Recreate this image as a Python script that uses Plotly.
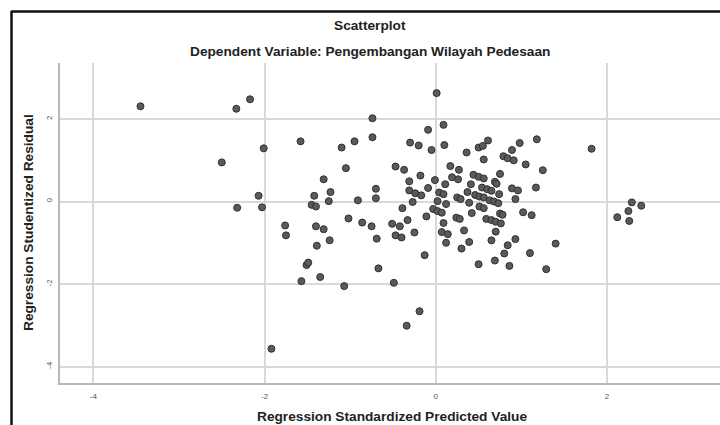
import plotly.graph_objects as go

predicted = [
    -3.45, -2.33, -2.17, -2.50, -2.01, -2.07, -2.32, -2.03, -1.92, -1.76,
    -1.75, -1.58, -1.10, -0.95, -0.74, -0.74, -1.05, -1.31, -1.23, -1.42,
    -1.25, -1.45, -1.40, -1.40, -1.31, -1.24, -1.39, -1.02, -1.51, -1.49,
    -1.57, -1.35, -1.07, -0.91, -0.70, -0.70, -0.86, -0.75, -0.69, -0.67,
    -0.49, -0.47, -0.37, -0.31, -0.18, -0.31, -0.24, -0.17, -0.09, -0.01,
    -0.39, -0.27, -0.51, -0.42, -0.33, -0.47, -0.40, -0.25, -0.11, -0.13,
    -0.19, -0.34, -0.30, -0.20, -0.09, -0.05, 0.01, 0.09, 0.10, 0.36,
    0.50, 0.55, 0.61, 0.56, 0.98, 1.18, 0.89, 0.79, 0.84, 0.91,
    1.05, 1.25, 1.82, 0.17, 0.27, 0.19, 0.26, 0.11, 0.44, 0.50,
    0.56, 0.75, 0.69, 0.71, 0.41, 0.54, 0.60, 0.65, 0.37, 0.89,
    0.96, 1.17, 0.74, 0.04, 0.09, 0.25, 0.29, 0.46, 0.51, 0.56,
    0.93, 0.02, 0.12, 0.39, 0.51, 0.56, 0.63, 0.68, 0.73, -0.03,
    0.02, 0.07, 0.42, 0.24, 0.28, 0.09, 0.59, 0.65, 0.70, 0.76,
    0.75, 0.78, 1.02, 1.12, 0.07, 0.14, 0.12, 0.33, 0.39, 0.30,
    0.70, 0.65, 0.93, 0.84, 0.80, 1.10, 1.40, 0.50, 0.69, 0.86,
    1.29, 2.29, 2.40, 2.25, 2.12, 2.26,
]
residual = [
    2.31, 2.25, 2.48, 0.95, 1.29, 0.14, -0.15, -0.14, -3.57, -0.58,
    -0.82, 1.46, 1.31, 1.46, 2.02, 1.56, 0.81, 0.54, 0.23, 0.14,
    0.01, -0.08, -0.12, -0.60, -0.67, -0.94, -1.07, -0.41, -1.54, -1.48,
    -1.93, -1.83, -2.05, 0.03, 0.31, 0.08, -0.51, -0.60, -0.90, -1.62,
    -1.97, 0.85, 0.77, 0.49, 0.63, 0.27, 0.20, 0.15, 0.33, 0.52,
    -0.16, -0.01, -0.54, -0.60, -0.45, -0.82, -0.87, -0.75, -0.36, -1.30,
    -2.66, -3.01, 1.43, 1.36, 1.74, 1.25, 2.63, 1.86, 1.37, 1.19,
    1.31, 1.35, 1.48, 1.02, 1.42, 1.51, 1.25, 1.10, 1.05, 1.00,
    0.90, 0.76, 1.28, 0.86, 0.77, 0.59, 0.54, 0.42, 0.65, 0.60,
    0.56, 0.67, 0.48, 0.43, 0.42, 0.34, 0.30, 0.26, 0.23, 0.32,
    0.27, 0.34, 0.18, 0.22, 0.18, 0.10, 0.06, 0.16, 0.12, 0.10,
    0.06, 0.01, -0.06, -0.03, -0.12, -0.16, 0.03, 0.00, -0.04, -0.18,
    -0.23, -0.27, -0.28, -0.39, -0.42, -0.52, -0.42, -0.45, -0.49, -0.53,
    -0.29, -0.32, -0.26, -0.33, -0.74, -0.79, -1.00, -0.70, -0.98, -1.14,
    -0.73, -0.94, -0.91, -1.06, -1.26, -1.25, -1.02, -1.52, -1.43, -1.56,
    -1.64, -0.02, -0.10, -0.23, -0.38, -0.47,
]

tick_vals = [-4, -2, 0, 2]
tick_text = ["-4", "-2", "0", "2"]

title_text = "Scatterplot"
subtitle_text = "Dependent Variable: Pengembangan Wilayah Pedesaan"
x_title = "Regression Standardized Predicted Value"
y_title = "Regression Studentized Residual"

FONT = "Liberation Sans, Arial, sans-serif"
TS = 13.7

fig = go.Figure()
fig.add_trace(go.Scatter(
    x=predicted, y=residual, mode="markers",
    marker=dict(size=7, color="#5a5a5a", line=dict(color="#303030", width=1)),
    hoverinfo="skip", showlegend=False,
))

W, H = 720, 425
L, R, T, B = 60, 0, 63, 42
pw, ph = W - L - R, H - T - B

def px(x):
    return (x - L) / pw

def py(y):
    return (H - B - y) / ph

axis_common = dict(
    showgrid=True, gridcolor="#d9d9d9", gridwidth=1.5,
    zeroline=False, showline=True, linecolor="#b8b8b8", linewidth=2,
    ticks="", tickvals=tick_vals, ticktext=tick_text,
    tickfont=dict(family=FONT, size=8, color="#555555"),
    mirror=False,
)

fig.update_layout(
    width=W, height=H,
    margin=dict(l=L, r=R, t=T, b=B, pad=0),
    paper_bgcolor="white", plot_bgcolor="white",
    xaxis=dict(range=[-4.39, 3.32], ticklabelstandoff=4, **axis_common),
    yaxis=dict(range=[-4.40, 3.36], tickangle=-90, ticklabelstandoff=3, **axis_common),
    font=dict(family=FONT, color="#222222"),
    annotations=[
        dict(text="<b>%s</b>" % title_text, x=px(370), y=py(26), xref="paper", yref="paper",
             showarrow=False, xanchor="center", yanchor="middle",
             font=dict(size=TS, color="#222222", family=FONT)),
        dict(text="<b>%s</b>" % subtitle_text, x=px(370), y=py(52), xref="paper", yref="paper",
             showarrow=False, xanchor="center", yanchor="middle",
             font=dict(size=TS, color="#222222", family=FONT)),
        dict(text="<b>%s</b>" % x_title, x=px(392), y=py(416), xref="paper", yref="paper",
             showarrow=False, xanchor="center", yanchor="middle",
             font=dict(size=TS, color="#222222", family=FONT)),
        dict(text="<b>%s</b>" % y_title, x=px(28), y=py(223), xref="paper", yref="paper",
             showarrow=False, xanchor="center", yanchor="middle", textangle=-90,
             font=dict(size=TS, color="#222222", family=FONT)),
    ],
    shapes=[
        dict(type="line", xref="paper", yref="paper", x0=px(11), x1=px(722), y0=py(11.5), y1=py(11.5),
             line=dict(color="#111111", width=2.5)),
        dict(type="line", xref="paper", yref="paper", x0=px(11.5), x1=px(11.5), y0=py(11), y1=py(427),
             line=dict(color="#111111", width=2.5)),
    ],
)

fig.write_html("out.html")
